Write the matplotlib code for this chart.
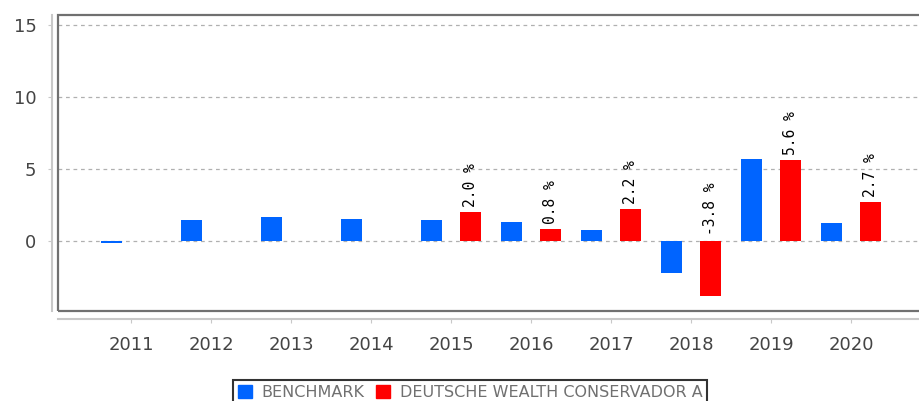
import matplotlib.pyplot as plt
import matplotlib.patches as mpatches
import numpy as np

years = ["2011", "2012", "2013", "2014", "2015", "2016", "2017", "2018", "2019", "2020"]
benchmark = [-0.12, 1.45, 1.7, 1.55, 1.45, 1.35, 0.75, -2.2, 5.7, 1.25]
fund = [None, None, None, None, 2.0, 0.8, 2.2, -3.8, 5.6, 2.7]

blue = "#0064ff"
red = "#ff0000"

fig = plt.figure(figsize=(9.2, 4.01), dpi=100)
ax = fig.add_axes([58 / 920, 1 - 311 / 401, 867 / 920, 296 / 401])

x = np.arange(len(years))
w = 0.27
ax.bar(x - 0.245, benchmark, w, color=blue, zorder=3)
fx = [i for i, v in enumerate(fund) if v is not None]
fv = [v for v in fund if v is not None]
ax.bar(np.array(fx) + 0.245, fv, w, color=red, zorder=3)

# value labels above red bars
for i, v in zip(fx, fv):
    ax.annotate(f"{v:.1f} %", (i + 0.245, max(v, 0)), xytext=(0, 4),
                textcoords="offset points", rotation=90, ha="center", va="bottom",
                fontsize=10.5, family="DejaVu Sans Mono", color="black")

ax.set_xlim(-0.9125, 9.925)
ax.set_ylim(-4.86, 15.69)
ax.set_xticks(x)
ax.set_xticklabels(years)
ax.set_yticks([0, 5, 10, 15])
ax.yaxis.grid(True, linestyle=(0, (3, 3)), color="#b0b0b0", linewidth=0.9, zorder=1)

for s in ["top", "right"]:
    ax.spines[s].set_visible(False)
ax.spines["left"].set_position(("outward", 4.5))
ax.spines["bottom"].set_position(("outward", 6))
ax.spines["left"].set_color("#c8c8c8")
ax.spines["bottom"].set_color("#c8c8c8")
ax.spines["left"].set_linewidth(1.5)
ax.spines["bottom"].set_linewidth(1.5)
ax.tick_params(axis="both", colors="#c8c8c8", labelcolor="#444444", labelsize=13, length=3)
ax.tick_params(axis="x", direction="out", pad=9)
ax.tick_params(axis="y", pad=8)

# dark frame around plot area
ax.add_patch(mpatches.Rectangle((0, 0), 1, 1, transform=ax.transAxes, fill=False,
                                edgecolor="#707070", linewidth=1.6, clip_on=False, zorder=4))

handles = [mpatches.Patch(color=blue), mpatches.Patch(color=red)]
leg = fig.legend(handles, ["BENCHMARK", "DEUTSCHE WEALTH CONSERVADOR A"],
                 loc="upper center", bbox_to_anchor=(470 / 920, 1 - 372 / 401),
                 ncol=2, fancybox=False, edgecolor="black", fontsize=11.5,
                 handlelength=0.9, handleheight=0.9, handletextpad=0.6,
                 columnspacing=0.7, borderpad=0.3, labelcolor="#707070")
leg.get_frame().set_linewidth(1.5)

fig.savefig("out.png", dpi=100)
